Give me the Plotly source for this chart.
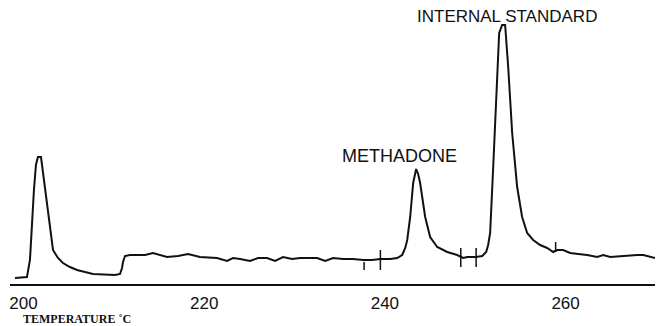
import plotly.graph_objects as go

# Temperature (deg C) and detector signal (arbitrary units)
temperature = [199.05, 200.38, 200.71, 200.93, 201.15, 201.37, 201.59, 201.93, 202.15, 202.59,
               202.92, 203.26, 203.81, 204.36, 205.14, 205.91, 207.69, 209.24, 210.12, 210.68,
               210.90, 211.01, 211.23, 211.78, 213.45, 214.33, 215.10, 215.88, 217.10, 218.21,
               219.53, 221.42, 222.52, 223.19, 223.97, 225.07, 225.96, 226.96, 227.84, 228.73,
               229.73, 230.61, 232.50, 233.39, 234.27, 235.38, 236.49, 237.60, 238.59, 239.48,
               240.59, 241.36, 241.91, 242.25, 242.47, 242.80, 243.13, 243.46, 243.68, 243.90,
               244.46, 245.01, 245.79, 246.90, 248.00, 248.67, 249.11, 250.10, 250.77, 251.21,
               251.43, 251.65, 251.99, 252.43, 252.65, 252.98, 253.31, 253.65, 254.09, 254.64,
               255.19, 255.75, 256.41, 257.19, 257.96, 258.63, 259.07, 259.73, 260.51, 261.40,
               262.39, 263.50, 264.17, 264.94, 266.05, 266.83, 267.93, 268.60, 269.37, 269.92]
signal = [6, 7, 24, 64, 94, 119, 127, 127, 112, 79,
          54, 34, 26, 21, 17, 14, 10, 9, 9, 10,
          16, 22, 28, 29, 29, 31, 29, 27, 28, 30,
          27, 26, 23, 26, 25, 23, 26, 26, 23, 27,
          25, 26, 26, 23, 26, 25, 25, 24, 24, 25,
          25, 26, 29, 36, 44, 67, 101, 115, 110, 101,
          67, 47, 37, 32, 29, 26, 27, 27, 28, 32,
          39, 51, 117, 201, 251, 259, 259, 217, 151, 97,
          67, 51, 44, 39, 36, 32, 34, 34, 31, 30,
          29, 27, 29, 27, 28, 28, 29, 29, 27, 26]

# Integration marks (temperature, low, high signal)
mark_temp = [237.7, 239.5, 248.4, 250.1, 258.9]
mark_low = [14, 14, 17, 17, 32]
mark_high = [22, 34, 36, 36, 42]

tick_vals = [200, 220, 240, 260]
tick_text = ["200", "220", "240", "260"]

methadone_peak = ("METHADONE", 243.46, 115)
standard_peak = ("INTERNAL STANDARD", 253.1, 259)

mx, my = [], []
for t, lo, hi in zip(mark_temp, mark_low, mark_high):
    mx += [t, t, None]
    my += [lo, hi, None]

fig = go.Figure()
fig.add_trace(go.Scatter(x=temperature, y=signal, mode="lines",
                         line=dict(color="#111111", width=2), hoverinfo="skip"))
fig.add_trace(go.Scatter(x=mx, y=my, mode="lines",
                         line=dict(color="#111111", width=1.5), hoverinfo="skip"))

fig.add_annotation(x=methadone_peak[1], y=methadone_peak[2], text=methadone_peak[0],
                   showarrow=False, xanchor="center", yanchor="bottom",
                   xshift=-17, yshift=1,
                   font=dict(family="Liberation Sans, Arial", size=18, color="#111111"))
fig.add_annotation(x=standard_peak[1], y=standard_peak[2], text=standard_peak[0],
                   showarrow=False, xanchor="center", yanchor="bottom",
                   xshift=4, yshift=-3,
                   font=dict(family="Liberation Sans, Arial", size=17, color="#111111"))
fig.add_annotation(x=0.017, y=-0.122, xref="paper", yref="paper",
                   text="<b>TEMPERATURE ˚C</b>", showarrow=False, xanchor="left", yanchor="middle",
                   font=dict(family="Liberation Serif, Times New Roman", size=12, color="#111111"))

fig.update_layout(
    width=659, height=326,
    margin=dict(l=10, r=4, t=0, b=42),
    paper_bgcolor="white", plot_bgcolor="white",
    showlegend=False,
    xaxis=dict(range=[198.5, 269.9], tickvals=tick_vals, ticktext=tick_text,
               showgrid=False, zeroline=False, showline=True, linecolor="#111111",
               linewidth=2, ticks="", ticklabelstandoff=3,
               tickfont=dict(family="Liberation Sans, Arial", size=17, color="#111111")),
    yaxis=dict(range=[0, 284], visible=False, showgrid=False, zeroline=False),
)

fig.write_html("out.html", config={"displayModeBar": False},
               post_script="document.body.style.margin='0';document.body.style.overflow='hidden';")
